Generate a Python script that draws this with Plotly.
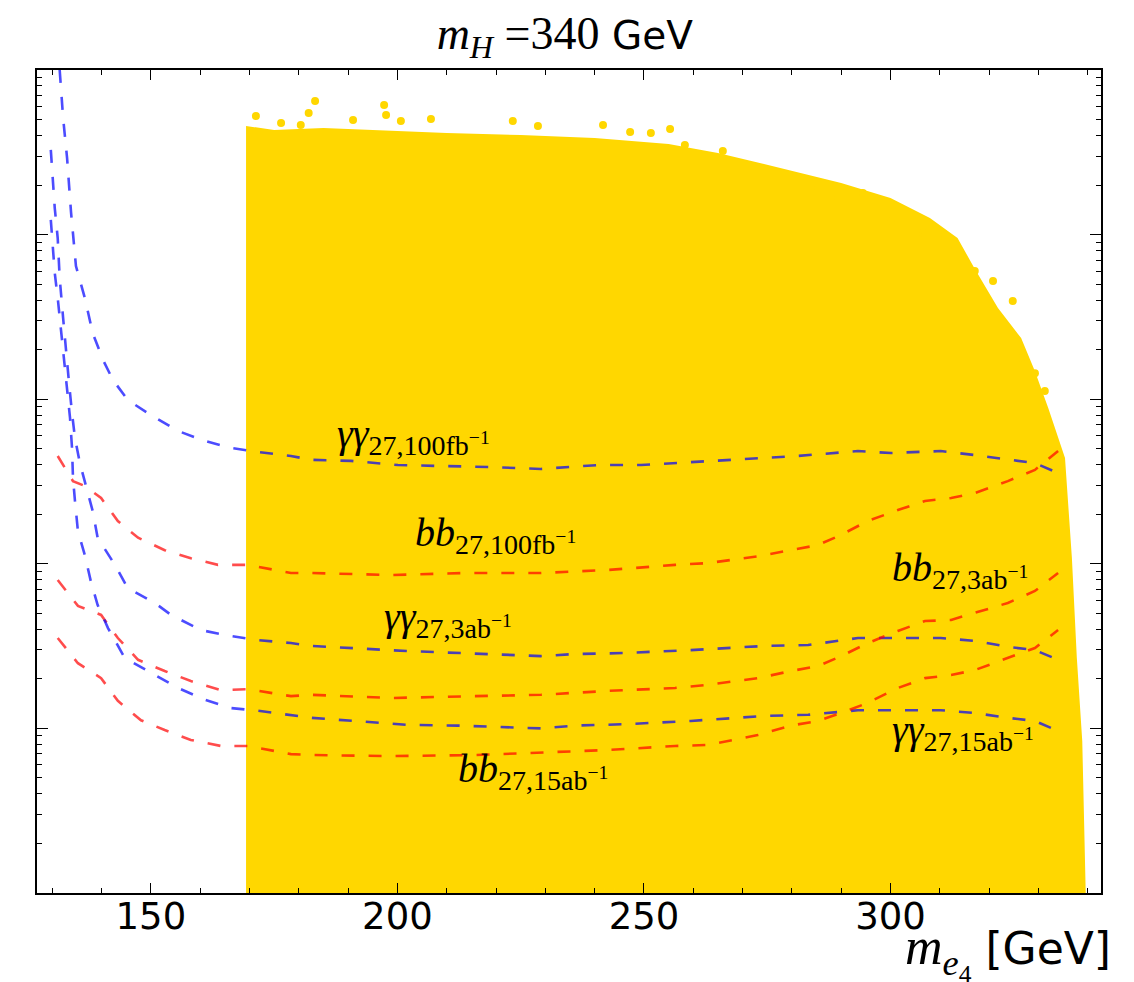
import numpy as np
import plotly.graph_objects as go

# ---- data ----
# upper envelope of the scanned (yellow) region
scan_x = [169.3, 175, 185, 195, 210, 225, 240, 255, 265, 276, 290, 300, 308, 313.6,
          317, 321.8, 326.5, 329.3, 332, 335.4, 336.8, 337.8, 338.9, 339.6]
scan_top = [45.7, 43.2, 44.4, 43.2, 41.4, 40.3, 38.6, 35.5, 31.3, 26.1, 20.6, 16.7, 12.6, 9.53,
            6.27, 3.58, 2.35, 1.48, 0.885, 0.440, 0.108, 0.0268, 0.00837, 0.001]
scan_floor = 0.001

# sparse scan points above the dense region
out_x = [171.3, 176.4, 180.4, 182.0, 183.3, 191.0, 197.3, 197.7, 200.7, 206.8, 223.4, 228.5,
         241.7, 247.2, 251.4, 255.3, 258.3, 266.0, 285.3, 289.4, 294.4, 300.1, 306.6, 307.0,
         309.6, 313.1, 317.1, 320.8, 324.8, 326.5, 329.3, 331.3]
out_y = [52.5, 47.6, 46.3, 54.8, 64.9, 49.7, 61.3, 53.3, 49.0, 50.4, 49.0, 45.7,
         46.3, 42.0, 41.4, 43.8, 35.0, 32.2, 19.2, 16.7, 17.9, 12.1, 10.2, 9.95,
         9.53, 8.29, 6.01, 5.22, 3.95, 1.78, 1.44, 1.12]

# gamma-gamma reach curves
aa100_x = [131.5, 132.2, 133.0, 133.8, 134.8, 136.6, 138.2, 140.3, 142.3, 145.3, 150.0, 155.5,
           161.0, 166.2, 171.7, 178.4, 182.5, 190.6, 200.1, 210.9, 219.0, 229.1, 234.6, 240.7,
           249.4, 258.9, 274.5, 281.2, 293.4, 300.1, 310.2, 317.1, 323.8, 329.3, 334.0]
aa100_y = [100, 51.1, 29.2, 13.7, 6.44, 4.12, 2.52, 1.73, 1.31, 0.989, 0.801, 0.641,
           0.557, 0.506, 0.478, 0.452, 0.428, 0.422, 0.398, 0.393, 0.387, 0.377, 0.387, 0.398,
           0.398, 0.415, 0.440, 0.452, 0.484, 0.471, 0.484, 0.458, 0.428, 0.409, 0.356]

aa3_x = [129.7, 130.1, 130.5, 131.1, 131.5, 132.2, 132.8, 133.4, 134.0, 134.6,
         135.6, 136.6, 138.2, 139.2, 142.7, 145.3, 150.8, 154.1, 160.1, 166.2,
         171.7, 178.4, 182.5, 202.1, 212.3, 229.1, 236.0, 246.1, 259.5, 274.5,
         283.3, 293.4, 300.1, 310.2, 317.1, 323.8, 329.3, 334.0]
aa3_y = [32.7, 22.1, 14.5, 9.53, 5.45, 3.11, 1.91, 1.25, 0.824, 0.581,
         0.409, 0.318, 0.209, 0.144, 0.0985, 0.0713, 0.0578, 0.0489, 0.0396, 0.0364,
         0.0344, 0.0330, 0.0317, 0.0295, 0.0287, 0.0275, 0.0283, 0.0287, 0.0299, 0.0317,
         0.0321, 0.0354, 0.0354, 0.0354, 0.0340, 0.0313, 0.0299, 0.0261]

aa15_x = [129.7, 130.1, 130.5, 131.1, 131.7, 132.4, 133.0, 133.6, 134.0, 134.2,
          134.6, 135.2, 136.6, 137.8, 139.2, 141.3, 144.7, 150.0, 155.5, 161.0,
          166.2, 171.7, 178.4, 182.5, 202.1, 212.3, 229.1, 236.0, 246.1, 259.5,
          274.5, 283.3, 293.4, 300.1, 310.2, 317.1, 323.8, 329.3, 334.0]
aa15_y = [12.3, 8.29, 5.85, 4.12, 2.71, 1.78, 1.17, 0.769, 0.506, 0.332,
          0.241, 0.158, 0.113, 0.0787, 0.0562, 0.0407, 0.0268, 0.0217, 0.0176, 0.0149,
          0.0133, 0.0128, 0.0121, 0.0116, 0.0105, 0.0104, 0.0100, 0.0104, 0.0106, 0.0111,
          0.0119, 0.0121, 0.0129, 0.0129, 0.0129, 0.0124, 0.0116, 0.0111, 0.00964]

# b-bbar reach curves
bb100_x = [131.1, 134.2, 136.6, 139.9, 143.3, 147.4, 152.8, 158.1, 163.6, 169.7,
           178.4, 182.5, 198.7, 213.7, 229.1, 242.7, 256.3, 263.0, 273.1, 279.8,
           285.3, 290.0, 295.4, 301.5, 307.0, 312.3, 317.1, 323.8, 329.3, 334.0]
bb100_y = [0.452, 0.318, 0.297, 0.251, 0.182, 0.144, 0.121, 0.108, 0.0985, 0.0985,
           0.0879, 0.0879, 0.0855, 0.0879, 0.0879, 0.0917, 0.0985, 0.101, 0.111, 0.121,
           0.130, 0.150, 0.182, 0.212, 0.241, 0.251, 0.269, 0.318, 0.372, 0.484]

bb3_x = [131.1, 135.2, 139.9, 143.3, 147.4, 152.8, 158.1, 164.2, 169.7, 178.4,
         182.5, 198.7, 215.7, 229.1, 242.7, 256.3, 263.0, 273.1, 279.8, 285.3,
         290.0, 295.4, 301.5, 307.0, 312.3, 317.1, 323.8, 329.3, 334.0]
bb3_y = [0.0798, 0.0555, 0.0489, 0.0354, 0.0261, 0.0223, 0.0194, 0.0171, 0.0173, 0.0157,
         0.0160, 0.0153, 0.0157, 0.0160, 0.0169, 0.0176, 0.0184, 0.0202, 0.0223, 0.0239,
         0.0275, 0.0330, 0.0391, 0.0449, 0.0456, 0.0502, 0.0578, 0.0684, 0.0879]

bb15_x = [131.1, 135.2, 139.9, 143.3, 148.0, 152.8, 158.1, 164.2, 169.7, 178.4,
          182.5, 198.7, 215.7, 229.1, 242.7, 256.3, 263.0, 273.1, 279.8, 285.3,
          290.0, 295.4, 301.5, 307.0, 312.3, 317.1, 323.8, 329.3, 334.0]
bb15_y = [0.0354, 0.0249, 0.0202, 0.0147, 0.0112, 0.00977, 0.00851, 0.00782, 0.00782, 0.00698,
          0.00689, 0.00679, 0.00689, 0.00710, 0.00739, 0.00782, 0.00793, 0.00912, 0.0104, 0.0111,
          0.0124, 0.0143, 0.0176, 0.0202, 0.0211, 0.0226, 0.0268, 0.0308, 0.0396]

label_text = [
    "<i>γγ</i><sub>27,100fb<sup>−1</sup></sub>",
    "<i>bb</i><sub>27,100fb<sup>−1</sup></sub>",
    "<i>γγ</i><sub>27,3ab<sup>−1</sup></sub>",
    "<i>bb</i><sub>27,3ab<sup>−1</sup></sub>",
    "<i>γγ</i><sub>27,15ab<sup>−1</sup></sub>",
    "<i>bb</i><sub>27,15ab<sup>−1</sup></sub>",
]
label_x = [187.3, 203.2, 196.9, 299.9, 299.9, 211.9]
label_y = [0.598, 0.150, 0.0463, 0.0918, 0.00952, 0.00549]

x_ticks = [150, 200, 250, 300]

GOLD = "#FFD700"
BLUE = "rgba(0,0,255,0.7)"
RED = "rgba(255,0,0,0.7)"
DASH = "13px,14px"

fig = go.Figure()

# scanned region as a filled area
fig.add_trace(go.Scatter(
    x=scan_x + [scan_x[-1], scan_x[0]],
    y=scan_top + [scan_floor, scan_floor],
    fill="toself", fillcolor=GOLD, mode="lines",
    line=dict(width=0, color=GOLD), hoverinfo="skip", showlegend=False))
fig.add_trace(go.Scatter(
    x=out_x, y=out_y, mode="markers",
    marker=dict(color=GOLD, size=8, line=dict(width=0)),
    showlegend=False))

for xs, ys, col in [(aa100_x, aa100_y, BLUE), (bb100_x, bb100_y, RED),
                    (aa3_x, aa3_y, BLUE), (bb3_x, bb3_y, RED),
                    (aa15_x, aa15_y, BLUE), (bb15_x, bb15_y, RED)]:
    fig.add_trace(go.Scatter(x=xs, y=ys, mode="lines",
                             line=dict(color=col, width=2.6, dash=DASH),
                             showlegend=False))

for t, lx, ly in zip(label_text, label_x, label_y):
    fig.add_annotation(x=lx, y=np.log10(ly), xref="x", yref="y", text=t,
                       showarrow=False, xanchor="left", yanchor="middle",
                       font=dict(family="Liberation Serif", size=40, color="black"))

# x-axis title
fig.add_annotation(
    x=1.0113, y=-0.074, xref="paper", yref="paper", xanchor="right", yanchor="middle",
    showarrow=False,
    text="<span style='font-family:Liberation Serif;font-size:52px'><i>m</i><sub><i>e</i><sub>4</sub></sub></span> [GeV]",
    font=dict(family="DejaVu Sans", size=44, color="black"))

fig.update_layout(
    width=1134, height=982,
    margin=dict(l=29, r=41, t=62, b=97),
    paper_bgcolor="white", plot_bgcolor="white",
    showlegend=False,
    title=dict(
        text="<span style='font-family:Liberation Serif;font-size:46px'><i>m</i><sub><i>H</i></sub> =340</span> GeV",
        x=0.496, xref="paper", y=1 - 27 / 982, yref="container",
        xanchor="center", yanchor="middle",
        font=dict(family="DejaVu Sans", size=39, color="black")),
)

fig.update_xaxes(
    range=[126.9, 342.7], tickvals=x_ticks, ticktext=[str(v) for v in x_ticks],
    ticks="inside", ticklen=10, tickwidth=1.2, tickcolor="black",
    showline=True, linecolor="black", linewidth=1.6, mirror="allticks",
    showgrid=False, zeroline=False, ticklabelstandoff=-10,
    tickfont=dict(family="DejaVu Sans", size=37, color="black"),
    minor=dict(ticks="inside", ticklen=5, dtick=10, tick0=0, tickcolor="black", showgrid=False))

fig.update_yaxes(
    type="log", range=[-3, 2], dtick=1,
    ticks="inside", ticklen=11, tickwidth=1.2, tickcolor="black",
    showline=True, linecolor="black", linewidth=1.6, mirror="allticks",
    showgrid=False, zeroline=False, showticklabels=False,
    minor=dict(ticks="inside", ticklen=5, dtick="D1", tickcolor="black", showgrid=False))

fig.write_html("out.html")
